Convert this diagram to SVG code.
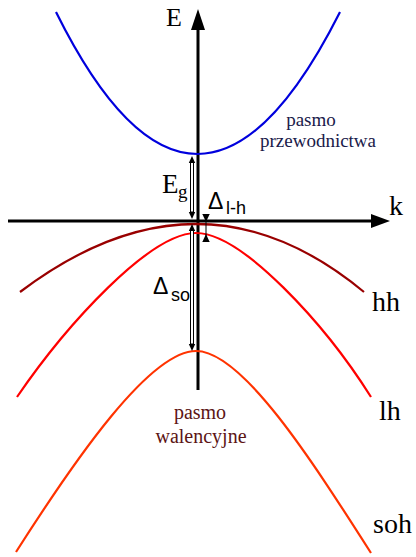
<svg xmlns="http://www.w3.org/2000/svg" width="416" height="557" viewBox="0 0 416 557">
<style>
.band{fill:none;stroke-width:2.2;stroke-linecap:butt}
.axis{stroke:#000;stroke-width:3;fill:none}
.serif{font-family:"Liberation Serif","Times New Roman",serif;fill:#000}
.sans{font-family:"Liberation Sans",Arial,sans-serif;fill:#000}
.dim{fill:#fff;stroke:#000;stroke-width:1}
.head{fill:#000}
</style>
<rect width="416" height="557" fill="#fff"/>
<g id="connectors">
  <line class="axis" x1="198" y1="390" x2="198" y2="26"/>
  <polygon class="head" points="198,9 191,30 205,30"/>
  <line class="axis" x1="8" y1="221" x2="374" y2="221"/>
  <polygon class="head" points="390,221 371,214 371,228"/>
</g>
<g id="conduction-band">
  <path class="band" stroke="#0000dd" d="M56,12 Q197,296 340,12"/>
</g>
<g id="hh-band">
  <path class="band" stroke="#990000" d="M20,292 Q200,156 364,292"/>
</g>
<g id="lh-band">
  <path class="band" stroke="#ff0000" d="M17,397 C67,324 150,233 196,233 S325,324 371,397"/>
</g>
<g id="soh-band">
  <path class="band" stroke="#ff3300" d="M16,552 C76,458 150,351 196,351 S311,459 371,553"/>
</g>
<g id="Eg-arrow">
  <rect class="dim" x="190.5" y="162" width="3" height="50"/>
  <polygon class="head" points="192,156 188.8,163 195.2,163"/>
  <polygon class="head" points="192,219 188.8,212 195.2,212"/>
</g>
<g id="dso-arrow">
  <rect class="dim" x="190.5" y="230" width="3" height="114"/>
  <polygon class="head" points="192,224 188.8,231 195.2,231"/>
  <polygon class="head" points="192,351 188.8,344 195.2,344"/>
</g>
<g id="dlh-arrow">
  <line x1="206" y1="214" x2="206" y2="242" stroke="#000" stroke-width="1"/>
  <line x1="202.5" y1="214.5" x2="209.5" y2="214.5" stroke="#000" stroke-width="1"/>
  <line x1="202.5" y1="241.5" x2="209.5" y2="241.5" stroke="#000" stroke-width="1"/>
  <polygon class="head" points="206,222 202.8,215 209.2,215"/>
  <polygon class="head" points="206,234 202.8,241 209.2,241"/>
</g>
<g id="labels">
  <text class="serif" x="166" y="26" font-size="26">E</text>
  <text class="serif" x="389" y="215" font-size="28">k</text>
  <text class="serif" x="162" y="193" font-size="27">E</text>
  <text class="serif" x="178" y="198" font-size="19">g</text>
  <text class="sans" x="208" y="209" font-size="23">Δ</text>
  <text class="sans" x="226" y="214" font-size="18">l-h</text>
  <text class="sans" x="153" y="294" font-size="23">Δ</text>
  <text class="sans" x="171" y="301" font-size="18">so</text>
  <text class="serif" x="372" y="311" font-size="28">hh</text>
  <text class="serif" x="379" y="420" font-size="28">lh</text>
  <text class="serif" x="373" y="533" font-size="28">soh</text>
</g>
<g id="conduction-label" font-family="Liberation Serif,Times New Roman,serif" font-size="19" fill="#1a1a4a" text-anchor="middle">
  <text x="311" y="126">pasmo</text>
  <text x="318" y="147">przewodnictwa</text>
</g>
<g id="valence-label" font-family="Liberation Serif,Times New Roman,serif" font-size="20" fill="#5c1414" text-anchor="middle">
  <text x="200" y="419">pasmo</text>
  <text x="201" y="443">walencyjne</text>
</g>
</svg>
